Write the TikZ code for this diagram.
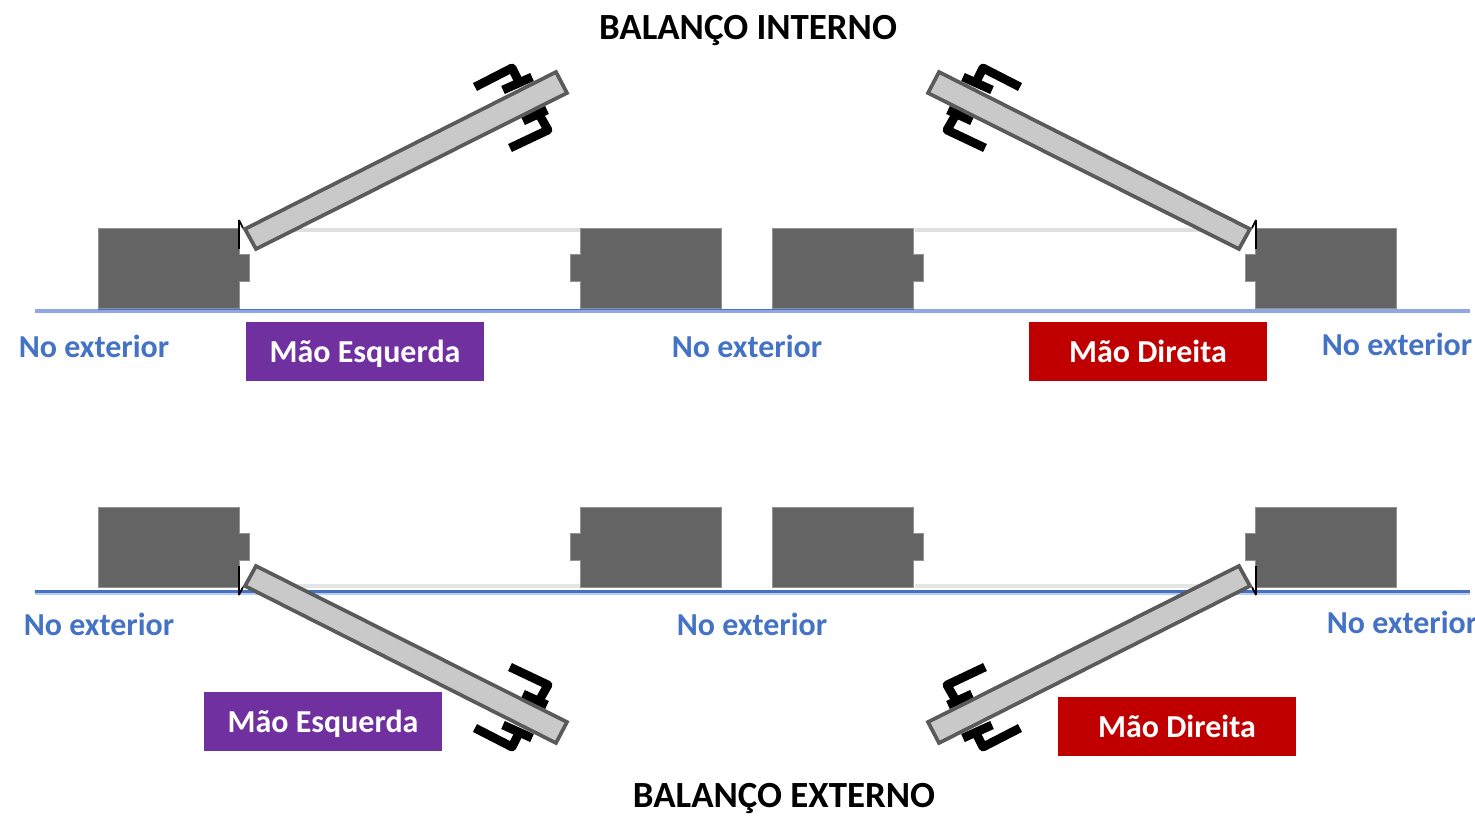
\documentclass[tikz,border=0pt]{standalone}
\usepackage{fontspec}
\setmainfont{Carlito}
\definecolor{wallgray}{HTML}{646464}
\definecolor{leafgray}{HTML}{C9C9C9}
\definecolor{leafedge}{HTML}{5A5A5A}
\definecolor{linklight}{HTML}{8FA8E4}
\definecolor{labelblue}{HTML}{4472C4}
\definecolor{lefthand}{HTML}{7030A0}
\definecolor{righthand}{HTML}{C00000}
\tikzset{
  outside/.style={text=labelblue, font=\bfseries\fontsize{18.2}{21}\selectfont, inner sep=0pt},
  handbox/.style={minimum width=4.76cm, minimum height=1.18cm, inner sep=0pt, text=white, text height=14.5pt, text depth=1.5pt, font=\bfseries\fontsize{18.2}{21}\selectfont},
  heading/.style={font=\bfseries\fontsize{21}{24}\selectfont, inner sep=0pt},
  wallblock/.pic={
    \fill[wallgray, draw=wallgray!70!white, line width=0.5pt]
      (0,0) -- (141,0) -- (141,26) -- (151,26) -- (151,53) -- (141,53) -- (141,80) -- (0,80) -- cycle;
  },
  doorleaf/.pic={
    % Bisagra
    \draw[black, line width=1.2pt] (-1,-8) -- (-1,21);
    \draw[black, line width=1pt] (-1,-8) -- (3,0);
    % Tiradores
    \draw[black, line width=5pt, line join=round] (235,-141) -- (272,-160) -- (279,-146);
    \draw[black, line width=5pt] (263,-138) -- (292,-151);
    \draw[black, line width=5pt, line join=round] (270,-80) -- (308,-98) -- (300,-112);
    \draw[black, line width=5pt] (283,-107) -- (307,-118);
    % Hoja
    \draw[leafedge, fill=leafgray, line width=2.1pt] (5,1) -- (16,21) -- (327,-135) -- (316,-156) -- cycle;
  }
}
\begin{document}
\begin{tikzpicture}[x=0.02cm, y=-0.02cm]
    \useasboundingbox (0,0) rectangle (1475,816);
    \clip (0,0) rectangle (1475,816);

    % Arriba
    \draw[gray!25, line width=1.8pt] (250,230) -- (580,230);
    \draw[gray!25, line width=1.8pt] (915,230) -- (1245,230);
    \pic at (98,228) {wallblock};
    \pic[xscale=-1] at (721,228) {wallblock};
    \pic at (772.5,228) {wallblock};
    \pic[xscale=-1] at (1396,228) {wallblock};
    \draw[linklight, line width=2.6pt] (35,311) -- (1470,311);
    \draw[labelblue, line width=1pt] (98,309.5) -- (914,309.5);
    \pic at (240,228) {doorleaf};
    \pic[xscale=-1] at (1255,228) {doorleaf};

    % Abajo
    \draw[gray!20, line width=1.8pt] (250,586) -- (580,586);
    \draw[gray!20, line width=1.8pt] (915,586) -- (1245,586);
    \pic at (98,507) {wallblock};
    \pic[xscale=-1] at (721,507) {wallblock};
    \pic at (772.5,507) {wallblock};
    \pic[xscale=-1] at (1396,507) {wallblock};
    \draw[linklight!60, line width=2.2pt] (35,593) -- (1470,593);
    \draw[labelblue, line width=1.3pt] (35,591.5) -- (1470,591.5);
    \pic[yscale=-1] at (240,587) {doorleaf};
    \pic[xscale=-1, yscale=-1] at (1255,587) {doorleaf};

    % Textos
    \node[heading] (titleIn) at (748,30) {BALANÇO INTERNO};
    \node[heading] (titleOut) at (784,798.5) {BALANÇO EXTERNO};
    \node[outside] (outA) at (94,346.5) {No exterior};
    \node[outside] (outB) at (747,346.5) {No exterior};
    \node[outside] (outC) at (1397,344.5) {No exterior};
    \node[outside] (outD) at (99,624.5) {No exterior};
    \node[outside] (outE) at (752,624.5) {No exterior};
    \node[outside] (outF) at (1402,622.5) {No exterior};
    \node[handbox, fill=lefthand] (leftIn) at (365,351.5) {Mão Esquerda};
    \node[handbox, fill=righthand] (rightIn) at (1148,351.5) {Mão Direita};
    \node[handbox, fill=lefthand] (leftOut) at (323,721.5) {Mão Esquerda};
    \node[handbox, fill=righthand] (rightOut) at (1177,726.5) {Mão Direita};
\end{tikzpicture}
\end{document}
